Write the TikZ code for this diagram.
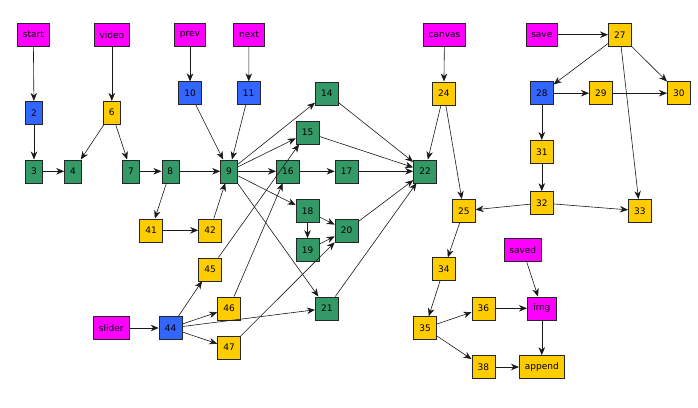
\documentclass[tikz,border=0pt]{standalone}
\usepackage{fontspec}
\setmainfont{DejaVu Sans}
\usetikzlibrary{arrows.meta}
\definecolor{cmag}{HTML}{FF00FF}
\definecolor{cblu}{HTML}{3366FF}
\definecolor{cyel}{HTML}{FFCC00}
\definecolor{cgrn}{HTML}{339966}
\begin{document}
\begin{tikzpicture}[x=1pt,y=-1pt,
  box/.style={draw=black!85, line width=0.6pt, minimum height=23pt, minimum width=23pt, inner sep=0pt, text=black, font=\fontsize{9}{10}\selectfont},
  nm/.style={box, fill=cmag},
  nb/.style={box, fill=cblu},
  ny/.style={box, fill=cyel},
  ng/.style={box, fill=cgrn},
  narrow/.style={minimum width=17pt},
  edge/.style={draw=black!90, line width=0.6pt, -{Stealth[length=8pt,width=6.5pt,inset=2.5pt]}}]
\useasboundingbox (0,0) rectangle (698,407);
% top row
\node[nm, minimum width=32pt] (start) at (33.3,34.7) {start};
\node[nm, minimum width=35pt] (video) at (111.8,34.7) {video};
\node[nm, minimum width=31pt] (prev) at (190,34.7) {prev};
\node[nm, minimum width=31pt] (next) at (249,34.7) {next};
\node[nm, minimum width=42pt] (canvas) at (444.5,34.7) {canvas};
\node[nm, minimum width=31pt] (save) at (541.8,34.7) {save};
\node[ny] (n27) at (619.8,34.7) {27};
% second row
\node[nb] (n10) at (190,93.2) {10};
\node[nb] (n11) at (248.7,93.2) {11};
\node[ng] (n14) at (326.8,93.3) {14};
\node[ny] (n24) at (443.8,93.3) {24};
\node[nb] (n28) at (541.8,93.2) {28};
\node[ny] (n29) at (600.8,93.2) {29};
\node[ny] (n30) at (678.8,93.2) {30};
\node[nb, narrow] (n2) at (34,112.7) {2};
\node[ny, narrow] (n6) at (111.8,112.7) {6};
\node[ng] (n15) at (307.5,132.5) {15};
\node[ny] (n31) at (541.8,151.8) {31};
% main row
\node[ng, narrow] (n3) at (34,171.3) {3};
\node[ng, narrow] (n4) at (73,171.3) {4};
\node[ng, narrow] (n7) at (131,171.3) {7};
\node[ng, narrow] (n8) at (170.3,171.3) {8};
\node[ng, narrow] (n9) at (229,171.3) {9};
\node[ng] (n16) at (287.8,171.3) {16};
\node[ng] (n17) at (346.5,171.3) {17};
\node[ng] (n22) at (425,171.3) {22};
\node[ny] (n32) at (541.8,203) {32};
\node[ng] (n18) at (307.5,211) {18};
\node[ny] (n25) at (463.8,210.8) {25};
\node[ny] (n33) at (639.8,210.8) {33};
\node[ny] (n41) at (151,230.3) {41};
\node[ny] (n42) at (210,230.3) {42};
\node[ng] (n20) at (346.5,230.5) {20};
\node[ng] (n19) at (307.5,250) {19};
\node[nm, minimum width=37pt] (saved) at (522.8,249.8) {saved};
\node[ny] (n45) at (210,269.3) {45};
\node[ny] (n34) at (443.8,269.2) {34};
\node[ny] (n46) at (229,308.3) {46};
\node[ng] (n21) at (326.8,308.3) {21};
\node[ny] (n36) at (483.3,308.3) {36};
\node[nm, minimum width=29pt] (img) at (541.8,308.3) {img};
\node[nm, minimum width=36pt] (slider) at (111.3,328) {slider};
\node[nb] (n44) at (170.5,328) {44};
\node[ny] (n35) at (425,328) {35};
\node[ny] (n47) at (229,347.7) {47};
\node[ny] (n38) at (483.3,367) {38};
\node[ny, minimum width=45pt] (append) at (541.8,367) {append};
% edges
\foreach \a/\b in {start/n2, n2/n3, n3/n4, video/n6, n6/n4, n6/n7, n7/n8, n8/n9, n8/n41, n41/n42, n42/n9,
  prev/n10, n10/n9, next/n11, n11/n9, n9/n14, n9/n15, n9/n16, n9/n18, n9/n21,
  n14/n22, n15/n22, n16/n17, n17/n22, n18/n19, n18/n20, n19/n20, n20/n22, n21/n22,
  slider/n44, n44/n45, n44/n46, n44/n47, n44/n21, n45/n15, n46/n16, n47/n20,
  canvas/n24, n24/n22, n24/n25, n25/n34, n34/n35, n35/n36, n35/n38, n36/img, saved/img, img/append, n38/append,
  save/n27, n27/n28, n27/n30, n27/n33, n28/n29, n29/n30, n28/n31, n31/n32, n32/n25, n32/n33}
  \draw[edge] (\a) -- (\b);
\end{tikzpicture}
\end{document}
